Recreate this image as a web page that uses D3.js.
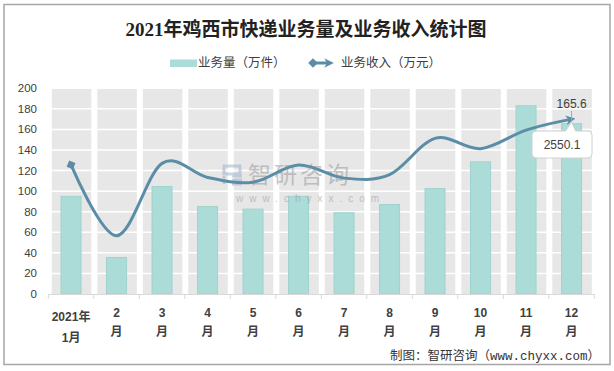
<!DOCTYPE html>
<html lang="zh">
<head>
<meta charset="utf-8">
<script src="https://d3js.org/d3.v7.min.js"></script>
<style>
  body { margin: 0; background: #fff; }
  svg text { font-family: "Liberation Sans", "Noto Sans CJK SC", sans-serif; fill: #404040; }
  .title { font-family: "Liberation Serif", "Noto Sans CJK SC", serif; font-weight: bold; fill: #222; }
  .xlab { font-weight: bold; }
</style>
</head>
<body>
<svg width="614" height="371"></svg>
<script>
// chart data
var months = ["1", "2", "3", "4", "5", "6", "7", "8", "9", "10", "11", "12"];
var xLine1 = ["2021年", "2", "3", "4", "5", "6", "7", "8", "9", "10", "11", "12"];
var xLine2 = ["1月", "月", "月", "月", "月", "月", "月", "月", "月", "月", "月", "月"];
var volume = [95, 35.5, 104.5, 85, 82.5, 95, 79, 87, 102.5, 128.5, 183, 165.6];   // 万件
var revenue = [1882, 850, 1905, 1700, 1630, 1880, 1690, 1740, 2270, 2120, 2390, 2550.1]; // 万元
var yTicks = [0, 20, 40, 60, 80, 100, 120, 140, 160, 180, 200];

var svg = d3.select("svg");
var lineColor = "#5b8ea6", barColor = "#acdcd7";

// outer frame
svg.append("rect").attr("x", 4).attr("y", 4.5).attr("width", 606).attr("height", 360)
  .attr("fill", "none").attr("stroke", "#a6a6a6").attr("stroke-width", 1.5);

svg.append("text").attr("class", "title")
  .attr("x", 306).attr("y", 36).attr("text-anchor", "middle")
  .style("font-size", "19px")
  .text("2021年鸡西市快递业务量及业务收入统计图");

var x = d3.scaleBand().domain(months).range([48.3, 594.3]);
var y = d3.scaleLinear().domain([0, 200]).range([294, 88.3]);
var y2 = d3.scaleLinear().domain([0, 3000]).range([294, 88.3]);

// gray column backgrounds
svg.append("g").selectAll("rect").data(months).enter().append("rect")
  .attr("x", function(d) { return x(d) + 3.5; })
  .attr("width", x.bandwidth() - 6)
  .attr("y", y(200))
  .attr("height", y(0) - y(200))
  .attr("fill", "#e7e7e7");

// white gridlines
svg.append("g").selectAll("line").data(yTicks.slice(1)).enter().append("line")
  .attr("x1", x.range()[0]).attr("x2", x.range()[1])
  .attr("y1", function(d) { return y(d); }).attr("y2", function(d) { return y(d); })
  .attr("stroke", "#fff").attr("stroke-width", 1.5);

// y axis labels
svg.append("g").selectAll("text").data(yTicks).enter().append("text")
  .attr("x", 37).attr("y", function(d) { return y(d); })
  .attr("dy", "0.35em").attr("text-anchor", "end")
  .style("font-size", "11.5px")
  .text(function(d) { return d; });

// bars
svg.append("g").selectAll("rect").data(volume).enter().append("rect")
  .attr("x", function(d, i) { return x(months[i]) + x.bandwidth() / 2 - 10; })
  .attr("width", 20)
  .attr("y", function(d) { return y(d); })
  .attr("height", function(d) { return y(0) - y(d); })
  .attr("fill", barColor).attr("stroke", "#9fd3cd").attr("stroke-width", 1);

// x axis
var xa = svg.append("g");
xa.append("line").attr("x1", x.range()[0]).attr("x2", x.range()[1])
  .attr("y1", 294.5).attr("y2", 294.5).attr("stroke", "#d9d9d9");
xa.selectAll("line.tk").data(months.concat(["end"])).enter().append("line")
  .attr("class", "tk")
  .attr("x1", function(d, i) { return x.range()[0] + i * x.bandwidth(); })
  .attr("x2", function(d, i) { return x.range()[0] + i * x.bandwidth(); })
  .attr("y1", 294.5).attr("y2", 299).attr("stroke", "#d9d9d9");
xa.selectAll("text.l1").data(xLine1).enter().append("text")
  .attr("class", "xlab l1")
  .attr("x", function(d, i) { return x(months[i]) + x.bandwidth() / 2; })
  .attr("y", function(d, i) { return i === 0 ? 317 : 313; })
  .attr("dy", "0.35em").attr("text-anchor", "middle")
  .style("font-size", "12px").text(function(d) { return d; });
xa.selectAll("text.l2").data(xLine2).enter().append("text")
  .attr("class", "xlab l2")
  .attr("x", function(d, i) { return x(months[i]) + x.bandwidth() / 2; })
  .attr("y", function(d, i) { return i === 0 ? 338 : 332; })
  .attr("dy", "0.35em").attr("text-anchor", "middle")
  .style("font-size", "12px").text(function(d) { return d; });

// watermark
var wm = svg.append("g").attr("opacity", 0.55);
wm.append("path").attr("d", "M224,166 L240,166 L240,174 L224,174 Z M224,176 L224,184 M232,176 L242,176 M232,180 L242,180 M232,184 L242,184")
  .attr("fill", "none").attr("stroke", "#9fb1cf").attr("stroke-width", 3);
wm.append("text").attr("x", 248).attr("y", 183).style("font-size", "23px")
  .style("fill", "#9a9a9a").style("letter-spacing", "3px").text("智研咨询");
wm.append("text").attr("x", 236).attr("y", 202).style("font-size", "10px")
  .style("fill", "#9a9a9a").style("letter-spacing", "6px").text("www.chyxx.com");

// markers
var defs = svg.append("defs");
defs.append("marker").attr("id", "dia").attr("viewBox", "-5 -5 10 10")
  .attr("refX", 0).attr("refY", 0).attr("markerWidth", 3.2).attr("markerHeight", 3.2)
  .attr("markerUnits", "strokeWidth").attr("orient", "auto")
  .append("path").attr("d", "M-5,0L0,-5L5,0L0,5Z").attr("fill", lineColor);
defs.append("marker").attr("id", "arr").attr("viewBox", "-6 -5 10 10")
  .attr("refX", 0).attr("refY", 0).attr("markerWidth", 3.2).attr("markerHeight", 3.2)
  .attr("markerUnits", "strokeWidth").attr("orient", "auto")
  .append("path").attr("d", "M-6,-5L4,0L-6,5L-3,0Z").attr("fill", lineColor);

// revenue line
var line = d3.line()
  .x(function(d, i) { return x(months[i]) + x.bandwidth() / 2; })
  .y(function(d) { return y2(d); })
  .curve(d3.curveCardinal.tension(0));
svg.append("path").datum(revenue).attr("d", line)
  .attr("fill", "none").attr("stroke", lineColor).attr("stroke-width", 3)
  .attr("marker-start", "url(#dia)").attr("marker-end", "url(#arr)");

// labels for last point
var lx = x("12") + x.bandwidth() / 2;
svg.append("text").attr("x", lx).attr("y", 104).attr("dy", "0.35em")
  .attr("text-anchor", "middle").style("font-size", "12px").text(volume[11]);
svg.append("line").attr("x1", lx).attr("x2", lx).attr("y1", 111).attr("y2", y2(revenue[11]) + 2)
  .attr("stroke", "#a6a6a6");
var py = y2(revenue[11]) + 3;
svg.append("path")
  .attr("d", "M536,131 L" + (lx - 6) + ",131 L" + lx + "," + py + " L" + (lx + 4) + ",131 L588,131 Q592,131 592,135 L592,154 Q592,158 588,158 L536,158 Q532,158 532,154 L532,135 Q532,131 536,131Z")
  .attr("fill", "#fff").attr("stroke", "#d0d0d0");
svg.append("text").attr("x", 562).attr("y", 144.5).attr("dy", "0.35em")
  .attr("text-anchor", "middle").style("font-size", "12px").text(revenue[11]);

// legend
var lg = svg.append("g").style("font-size", "12.5px");
lg.append("rect").attr("x", 170).attr("y", 59.5).attr("width", 27).attr("height", 7.5).attr("fill", barColor);
lg.append("text").attr("x", 198).attr("y", 63).attr("dy", "0.35em").text("业务量（万件）");
lg.append("line").attr("x1", 313).attr("x2", 330).attr("y1", 63).attr("y2", 63)
  .attr("stroke", lineColor).attr("stroke-width", 3)
  .attr("marker-start", "url(#dia)").attr("marker-end", "url(#arr)");
lg.append("text").attr("x", 341).attr("y", 63).attr("dy", "0.35em").text("业务收入（万元）");

// source
svg.append("text").attr("x", 600).attr("y", 356).attr("dy", "0.35em").attr("text-anchor", "end")
  .style("font-size", "12.5px").style("font-family", "'Liberation Mono','Noto Sans CJK SC',monospace")
  .style("fill", "#333").text("制图：智研咨询（www.chyxx.com）");
</script>
</body>
</html>
